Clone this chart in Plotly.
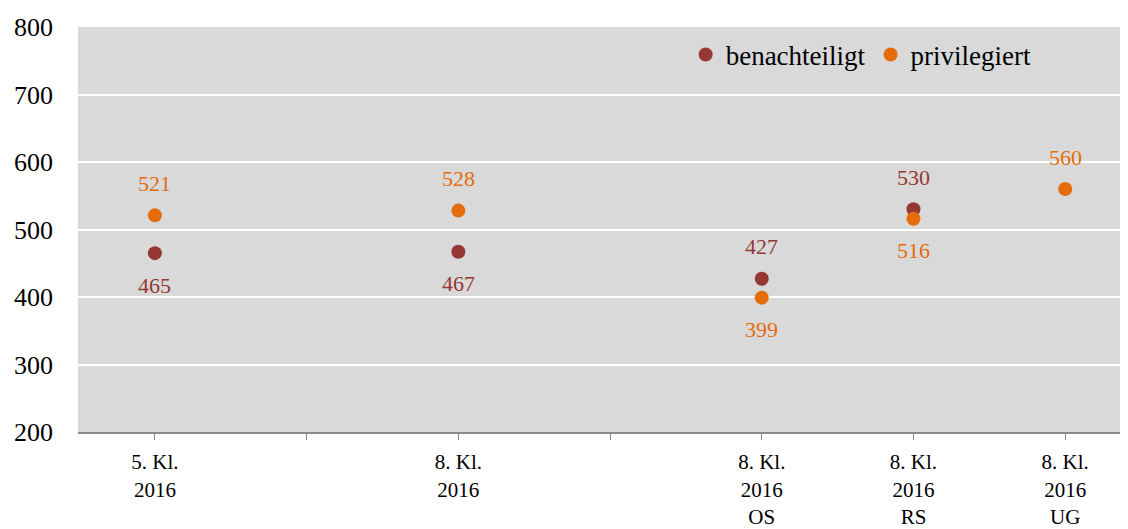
import plotly.graph_objects as go

# categories on a 7-slot axis (slots 1 and 3 stay empty)
cat_pos = [0, 2, 4, 5, 6]
cat_labels = ["5. Kl.<br>2016", "8. Kl.<br>2016", "8. Kl.<br>2016<br>OS", "8. Kl.<br>2016<br>RS", "8. Kl.<br>2016<br>UG"]
tick_pos = [0, 1, 2, 3, 4, 5, 6]

benachteiligt = [465, 467, 427, 530, None]
privilegiert = [521, 528, 399, 516, 560]
# label side: +1 above, -1 below
ben_side = [-1, -1, 1, 1, 0]
priv_side = [1, 1, -1, -1, 1]

c_ben = "#953735"
c_priv = "#E46C0A"
font = "Liberation Serif, Palatino Linotype, serif"

fig = go.Figure()
fig.add_trace(go.Scatter(x=cat_pos, y=benachteiligt, mode="markers", name="benachteiligt",
                         marker=dict(color=c_ben, size=14)))
fig.add_trace(go.Scatter(x=cat_pos, y=privilegiert, mode="markers", name="privilegiert",
                         marker=dict(color=c_priv, size=14)))

for vals, sides, col in [(benachteiligt, ben_side, c_ben), (privilegiert, priv_side, c_priv)]:
    for x, v, s in zip(cat_pos, vals, sides):
        if v is None:
            continue
        fig.add_annotation(x=x, y=v, text=str(v), showarrow=False, yshift=32 * s,
                           font=dict(family=font, size=22, color=col))

tick_text = []
for t in tick_pos:
    tick_text.append(cat_labels[cat_pos.index(t)] if t in cat_pos else "")

# page body has an 8px margin, so the figure sits 8px in from the top/left
fig.update_layout(
    width=1120, height=521,
    margin=dict(l=70, r=0, t=19, b=97),
    plot_bgcolor="#D9D9D9", paper_bgcolor="white",
    font=dict(family=font, color="black"),
    showlegend=True,
    legend=dict(orientation="h", x=0.913, xanchor="right", y=0.931, yanchor="middle",
                bgcolor="rgba(0,0,0,0)", font=dict(size=27), itemwidth=30,
                tracegroupgap=0),
    xaxis=dict(range=[-0.507, 6.414], tickmode="array", tickvals=tick_pos, ticktext=tick_text,
               showgrid=False, zeroline=False, showline=True, linecolor="#898989", linewidth=2,
               ticks="outside", ticklen=6, tickcolor="#898989", tickwidth=1,
               tickfont=dict(size=21), ticklabelstandoff=4, automargin=False),
    yaxis=dict(range=[200, 800], tickvals=[200, 300, 400, 500, 600, 700, 800],
               showgrid=True, gridcolor="white", gridwidth=2, zeroline=False,
               showline=False, tickfont=dict(size=26), ticklabelstandoff=24,
               automargin=False),
)

fig.write_html("out.html")
